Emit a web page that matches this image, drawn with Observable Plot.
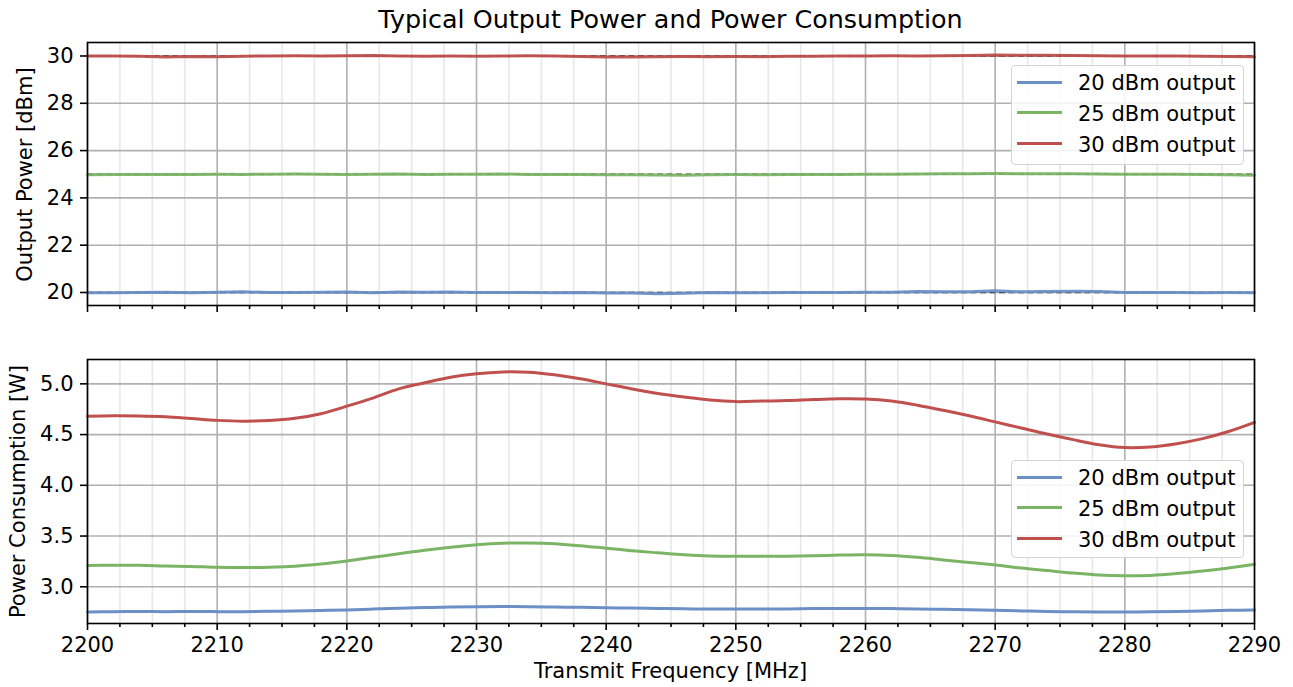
<!DOCTYPE html>
<html>
<head>
<meta charset="utf-8">
<script src="https://cdn.jsdelivr.net/npm/d3@7"></script>
<script src="https://cdn.jsdelivr.net/npm/@observablehq/plot@0.6"></script>
<style>
  html, body { margin: 0; padding: 0; background: white; }
  #wrap { position: relative; width: 1293px; height: 687px; font-family: "DejaVu Sans", sans-serif; color: black; overflow: hidden; }
  #wrap > svg { position: absolute; left: 0; }
  .txt { position: absolute; white-space: nowrap; z-index: 5; }
  .legend { position: absolute; z-index: 6; box-sizing: border-box; border: 1.6px solid #d4d4d4; border-radius: 4px; background: rgba(255,255,255,0.85); }
  .legend .sw { position: absolute; left: 5px; width: 45px; height: 3px; }
  .legend .lt { position: absolute; left: 66px; font-size: 21px; line-height: 21px; white-space: nowrap; }
</style>
</head>
<body>
<div id="wrap"></div>
<script>
// ---------------- data ----------------
const freq = [2200, 2202, 2204, 2206, 2208, 2210, 2212, 2214, 2216, 2218, 2220, 2222, 2224, 2226, 2228, 2230,
  2232, 2234, 2236, 2238, 2240, 2242, 2244, 2246, 2248, 2250, 2252, 2254, 2256, 2258, 2260,
  2262, 2264, 2266, 2268, 2270, 2272, 2274, 2276, 2278, 2280, 2282, 2284, 2286, 2288, 2290];

const seriesNames = ["20 dBm output", "25 dBm output", "30 dBm output"];
const seriesColors = ["#6c8fc6", "#7cb466", "#c0504e"];
const targetLevels = [20, 25, 30];

// Output power [dBm]
const out20 = [19.99, 19.99, 20.00, 20.01, 19.99, 20.01, 20.03, 20.00, 20.00, 20.01, 20.02, 19.99, 20.02, 20.01, 20.02, 20.00,
  20.00, 20.00, 19.99, 20.00, 19.98, 19.98, 19.95, 19.97, 20.00, 19.99, 19.99, 20.00, 20.00, 20.00, 20.01,
  20.01, 20.04, 20.03, 20.03, 20.07, 20.03, 20.04, 20.05, 20.04, 20.00, 20.00, 20.00, 19.99, 20.00, 19.99];
const out25 = [24.98, 24.99, 24.99, 24.99, 24.99, 25.00, 24.99, 25.00, 25.01, 25.00, 24.99, 25.00, 25.01, 24.99, 25.00, 25.00,
  25.01, 24.99, 24.99, 24.99, 24.98, 24.98, 24.97, 24.96, 24.98, 24.99, 24.98, 24.99, 24.99, 24.99, 25.00,
  25.00, 25.01, 25.02, 25.02, 25.03, 25.02, 25.02, 25.02, 25.01, 25.00, 25.00, 25.00, 24.99, 24.98, 24.96];
const out30 = [30.00, 30.00, 29.99, 29.96, 29.98, 29.97, 29.99, 30.00, 30.01, 30.00, 30.01, 30.02, 30.00, 29.99, 30.00, 29.99,
  30.00, 30.01, 30.00, 29.98, 29.96, 29.96, 29.97, 29.98, 29.97, 29.98, 29.97, 29.99, 29.99, 30.00, 30.00,
  30.01, 30.00, 30.01, 30.02, 30.04, 30.03, 30.03, 30.02, 30.01, 30.00, 30.00, 30.00, 29.99, 29.98, 29.97];

// Power consumption [W]
const pc20 = [2.752, 2.755, 2.756, 2.755, 2.757, 2.755, 2.755, 2.758, 2.762, 2.766, 2.772, 2.780, 2.788, 2.795, 2.800, 2.802,
  2.805, 2.804, 2.800, 2.797, 2.793, 2.790, 2.787, 2.783, 2.781, 2.780, 2.780, 2.782, 2.785, 2.786, 2.786,
  2.785, 2.782, 2.778, 2.773, 2.768, 2.762, 2.757, 2.754, 2.752, 2.752, 2.753, 2.756, 2.762, 2.768, 2.772];
const pc25 = [3.210, 3.212, 3.212, 3.205, 3.200, 3.192, 3.190, 3.193, 3.203, 3.225, 3.255, 3.290, 3.325, 3.360, 3.390, 3.415,
  3.430, 3.432, 3.425, 3.405, 3.380, 3.355, 3.335, 3.315, 3.303, 3.300, 3.300, 3.302, 3.305, 3.312, 3.315,
  3.308, 3.290, 3.265, 3.240, 3.215, 3.185, 3.160, 3.135, 3.115, 3.108, 3.112, 3.130, 3.155, 3.185, 3.222];
const pc30 = [4.680, 4.685, 4.683, 4.675, 4.658, 4.640, 4.632, 4.638, 4.660, 4.705, 4.780, 4.860, 4.950, 5.010, 5.065, 5.100,
  5.118, 5.115, 5.090, 5.050, 5.000, 4.950, 4.905, 4.870, 4.840, 4.825, 4.830, 4.835, 4.845, 4.852, 4.850,
  4.830, 4.790, 4.740, 4.685, 4.625, 4.565, 4.505, 4.450, 4.400, 4.372, 4.378, 4.410, 4.460, 4.530, 4.620];

// ticks
const xMajorTicks = [2200, 2210, 2220, 2230, 2240, 2250, 2260, 2270, 2280, 2290];
const xMinorTicks = [2202.5, 2205, 2207.5, 2212.5, 2215, 2217.5, 2222.5, 2225, 2227.5, 2232.5, 2235, 2237.5,
  2242.5, 2245, 2247.5, 2252.5, 2255, 2257.5, 2262.5, 2265, 2267.5, 2272.5, 2275, 2277.5, 2282.5, 2285, 2287.5];
const yTicksTop = [20, 22, 24, 26, 28, 30];
const yTicksBottom = [3.0, 3.5, 4.0, 4.5, 5.0];

const titleText = "Typical Output Power and Power Consumption";
const yLabelTop = "Output Power [dBm]";
const yLabelBottom = "Power Consumption [W]";
const xLabel = "Transmit Frequency [MHz]";

// ---------------- build ----------------
const toRows = (vals) => freq.map((f, i) => ({f, v: vals[i]}));
const topSeries = [out20, out25, out30].map(toRows);
const botSeries = [pc20, pc25, pc30].map(toRows);

const W = 1293;
const common = {
  width: W,
  marginLeft: 87,
  marginRight: 39,
  x: {domain: [2200, 2290]},
  style: {fontFamily: "DejaVu Sans, sans-serif", fontSize: "21px", color: "black", background: "transparent", overflow: "visible"}
};

function gridMarks(yTicks) {
  return [
    Plot.gridX(xMinorTicks, {stroke: "#e8e8e8", strokeOpacity: 1, strokeWidth: 1.6}),
    Plot.gridX(xMajorTicks, {stroke: "#b0b0b0", strokeOpacity: 1, strokeWidth: 1.6}),
    Plot.gridY(yTicks, {stroke: "#b0b0b0", strokeOpacity: 1, strokeWidth: 1.6})
  ];
}

const topPlot = Plot.plot({
  ...common,
  height: 330,
  marginTop: 42,
  marginBottom: 25,
  y: {domain: [19.45, 30.57]},
  marks: [
    ...gridMarks(yTicksTop),
    Plot.ruleY(targetLevels, {stroke: "#222", strokeWidth: 1.4, strokeDasharray: "6,3.5"}),
    ...topSeries.map((d, i) => Plot.lineY(d, {x: "f", y: "v", stroke: seriesColors[i], strokeWidth: 3, strokeOpacity: 0.95})),
    Plot.axisX(xMinorTicks, {tickSize: 4, tickFormat: () => "", label: null, strokeWidth: 1.6}),
    Plot.axisX(xMajorTicks, {tickSize: 7, tickFormat: () => "", label: null, strokeWidth: 1.6}),
    Plot.axisY(yTicksTop, {tickSize: 7, tickPadding: 7, tickFormat: d => String(d), label: null, strokeWidth: 1.6}),
    Plot.frame({stroke: "black", strokeWidth: 1.6})
  ]
});

const botPlot = Plot.plot({
  ...common,
  height: 357,
  marginTop: 29,
  marginBottom: 64,
  y: {domain: [2.638, 5.24]},
  marks: [
    ...gridMarks(yTicksBottom),
    ...botSeries.map((d, i) => Plot.lineY(d, {x: "f", y: "v", stroke: seriesColors[i], strokeWidth: 3, curve: "catmull-rom"})),
    Plot.axisX(xMinorTicks, {tickSize: 4, tickFormat: () => "", label: null, strokeWidth: 1.6}),
    Plot.axisX(xMajorTicks, {tickSize: 7, tickPadding: 7, tickFormat: d => String(d), label: null, strokeWidth: 1.6}),
    Plot.axisY(yTicksBottom, {tickSize: 7, tickPadding: 7, tickFormat: d3.format(".1f"), label: null, strokeWidth: 1.6}),
    Plot.frame({stroke: "black", strokeWidth: 1.6})
  ]
});

const wrap = document.getElementById("wrap");
topPlot.style.top = "0px";
botPlot.style.top = "330px";
wrap.appendChild(topPlot);
wrap.appendChild(botPlot);

function addText(text, {left, top, width, size, rotate, align = "center"}) {
  const d = document.createElement("div");
  d.className = "txt";
  d.textContent = text;
  d.style.left = left + "px";
  d.style.top = top + "px";
  d.style.width = width + "px";
  d.style.textAlign = align;
  d.style.fontSize = size + "px";
  d.style.lineHeight = size + "px";
  if (rotate) { d.style.transform = `rotate(${rotate}deg)`; d.style.transformOrigin = "50% 50%"; }
  wrap.appendChild(d);
  return d;
}

// title
addText(titleText, {left: 87, top: 7, width: 1167, size: 25.4});
// x label
addText(xLabel, {left: 87, top: 661, width: 1167, size: 21});
// y labels (rotated around center)
addText(yLabelTop, {left: 25 - 200, top: 174 - 10.5, width: 400, size: 21, rotate: -90});
addText(yLabelBottom, {left: 18 - 200, top: 491 - 10.5, width: 400, size: 21, rotate: -90});

function addLegend(left, top, height) {
  const lg = document.createElement("div");
  lg.className = "legend";
  lg.style.left = left + "px";
  lg.style.top = top + "px";
  lg.style.width = "233px";
  lg.style.height = height + "px";
  const centers = [16, 46.5, 77.5];
  seriesNames.forEach((name, i) => {
    const sw = document.createElement("div");
    sw.className = "sw";
    sw.style.top = (centers[i] - 1.5) + "px";
    sw.style.background = seriesColors[i];
    lg.appendChild(sw);
    const t = document.createElement("div");
    t.className = "lt";
    t.style.top = (centers[i] - 9) + "px";
    t.textContent = name;
    lg.appendChild(t);
  });
  wrap.appendChild(lg);
}
addLegend(1011, 65, 100);
addLegend(1011, 460, 98);
</script>
</body>
</html>
